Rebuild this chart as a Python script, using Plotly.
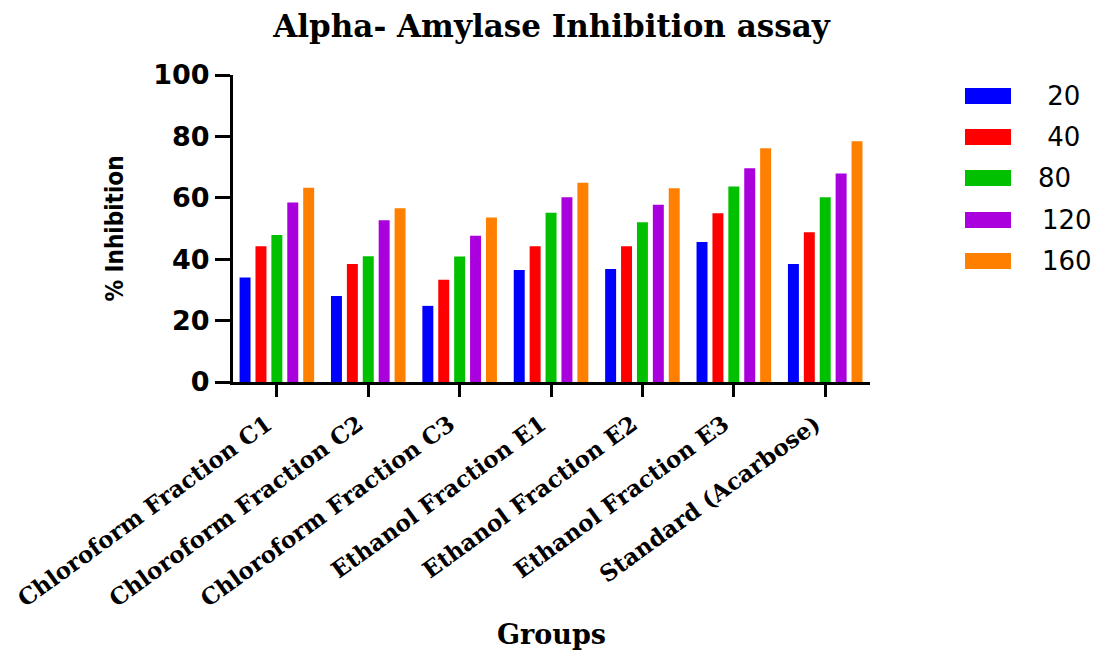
import plotly.graph_objects as go

# Groups on the x axis
groups = [
    "Chloroform Fraction C1",
    "Chloroform Fraction C2",
    "Chloroform Fraction C3",
    "Ethanol Fraction E1",
    "Ethanol Fraction E2",
    "Ethanol Fraction E3",
    "Standard (Acarbose)",
]

# Concentrations (legend entries)
conc_labels = ["20", "40", "80", "120", "160"]

# % inhibition per group at each concentration
inh_20 = [34.0, 28.0, 24.8, 36.5, 36.8, 45.6, 38.4]
inh_40 = [44.2, 38.4, 33.3, 44.2, 44.2, 55.0, 48.8]
inh_80 = [47.9, 41.0, 40.9, 55.1, 52.0, 63.7, 60.2]
inh_120 = [58.5, 52.7, 47.6, 60.2, 57.7, 69.6, 67.9]
inh_160 = [63.3, 56.6, 53.6, 64.9, 63.1, 76.1, 78.4]

y_ticks = [0, 20, 40, 60, 80, 100]

series = [inh_20, inh_40, inh_80, inh_120, inh_160]
colors = ["#0000FF", "#FF0000", "#00C000", "#AA00DD", "#FF8000"]

SERIF = "DejaVu Serif, Liberation Serif, serif"
SANS = "DejaVu Sans, Liberation Sans, sans-serif"
NARROW = "Liberation Sans Narrow, DejaVu Sans Condensed, Liberation Sans, sans-serif"

W, H = 1096, 650
ML, MR, MT, MB = 233, 226, 75, 268
PW = W - ML - MR
PH = H - MT - MB


def px_x(px):
    """Horizontal pixel -> paper fraction."""
    return (px - ML) / PW


def px_y(py):
    """Vertical pixel (from top) -> paper fraction."""
    return (H - MB - py) / PH


fig = go.Figure()

for vals, col, lab in zip(series, colors, conc_labels):
    fig.add_trace(go.Bar(
        x=groups, y=vals, name=lab,
        marker=dict(color=col, line=dict(width=0)),
        showlegend=False,
    ))

# Key: wide colour swatch followed by the concentration
shapes = []
annotations = []
row_y = [96, 137, 178, 220, 261]
label_x = [1037, 1037, 1036, 1040, 1040]
label_pad = ["\u00a0", "\u00a0", "", "", ""]
for col, lab, ry, lx, pad in zip(colors, conc_labels, row_y, label_x, label_pad):
    shapes.append(dict(
        type="rect", xref="paper", yref="paper",
        x0=px_x(965), x1=px_x(1011), y0=px_y(ry + 8), y1=px_y(ry - 8),
        fillcolor=col, line=dict(width=0),
    ))
    annotations.append(dict(
        xref="paper", yref="paper", x=px_x(lx), y=px_y(ry),
        xanchor="left", yanchor="middle", showarrow=False,
        text=pad + lab, font=dict(family=SANS, size=26, color="black"),
    ))

fig.update_layout(
    width=W, height=H,
    margin=dict(l=ML, r=MR, t=MT, b=MB),
    paper_bgcolor="white", plot_bgcolor="white",
    barmode="group", bargap=0.13, bargroupgap=0.31,
    showlegend=False,
    shapes=shapes, annotations=annotations,
    title=dict(
        text="<b>Alpha- Amylase Inhibition assay</b>",
        font=dict(family=SERIF, size=31, color="black"),
        x=0.5, xref="paper", xanchor="center",
        y=1 - 26 / H, yref="container", yanchor="middle",
    ),
    xaxis=dict(
        range=[-0.48, 6.49], automargin=False,
        showline=True, linewidth=3, linecolor="black",
        ticks="outside", ticklen=12, tickwidth=3, tickcolor="black",
        tickangle=-36, ticklabelshift=-10, ticklabelstandoff=5,
        tickfont=dict(family=SERIF, size=23, color="black", weight="bold"),
        showgrid=False, zeroline=False,
        title=dict(text="<b>Groups</b>", font=dict(family=SERIF, size=27, color="black"),
                   standoff=34),
    ),
    yaxis=dict(
        range=[0, 100], tickvals=y_ticks, automargin=False,
        showline=True, linewidth=3, linecolor="black",
        ticks="outside", ticklen=15, tickwidth=3, tickcolor="black",
        tickfont=dict(family=SANS, size=27, color="black", weight="bold"),
        showgrid=False, zeroline=False,
        title=dict(text="% Inhibition", font=dict(family=NARROW, size=24, color="black",
                                                  weight="bold"),
                   standoff=23),
    ),
)

fig.write_html("out.html")
